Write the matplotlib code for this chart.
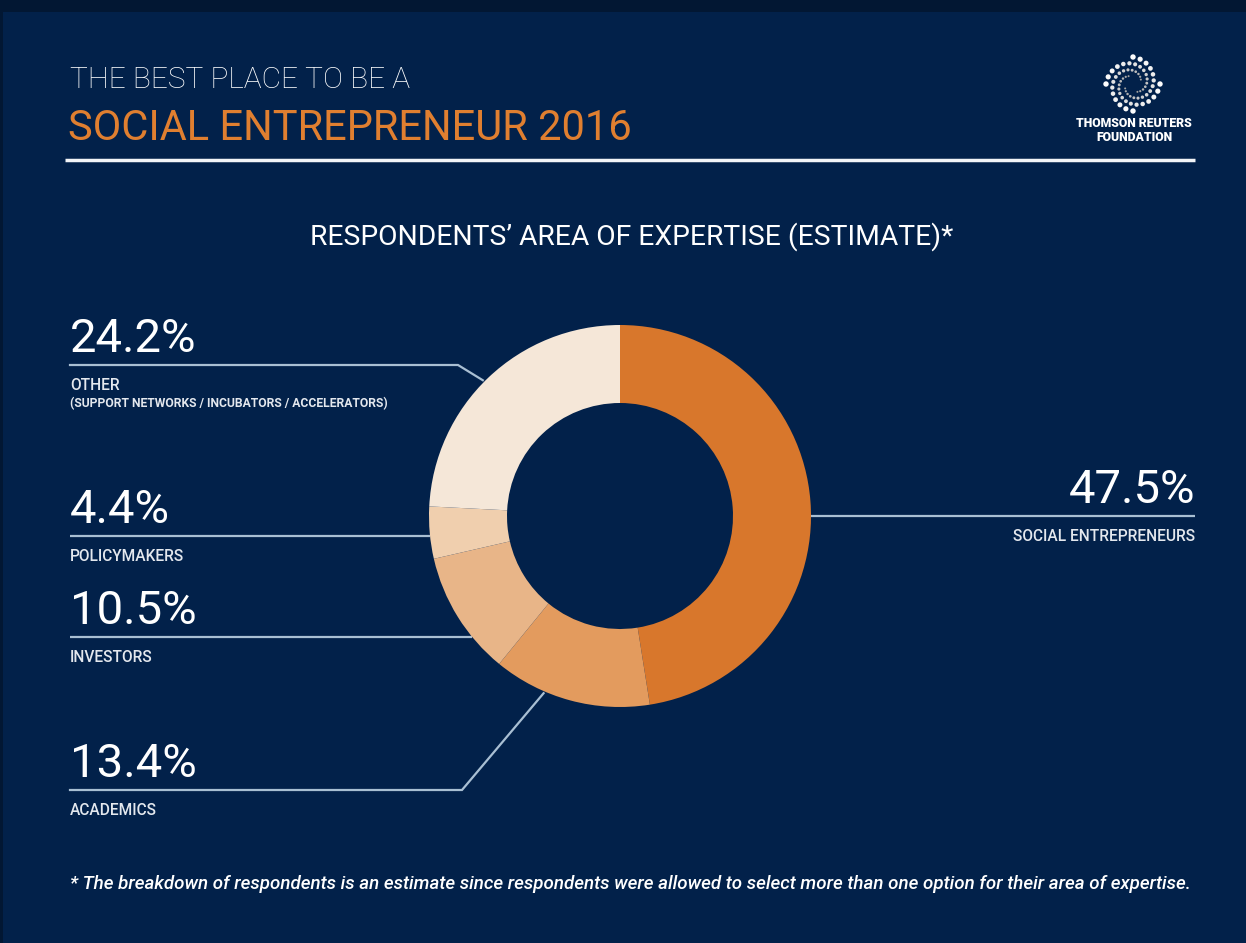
import numpy as np
import matplotlib
matplotlib.use("Agg")
import matplotlib.pyplot as plt
from matplotlib.patches import Rectangle

# ---------------- data ----------------
categories = ["SOCIAL ENTREPRENEURS", "ACADEMICS", "INVESTORS", "POLICYMAKERS", "OTHER"]
values = [47.5, 13.4, 10.5, 4.4, 24.2]
pct_labels = ["47.5%", "13.4%", "10.5%", "4.4%", "24.2%"]
sub_labels = ["", "", "", "", "(SUPPORT NETWORKS / INCUBATORS / ACCELERATORS)"]
colors = ["#D8772C", "#E39B5E", "#E8B588", "#F0CFAE", "#F5E7D8"]

title_top = "THE BEST PLACE TO BE A"
title_main = "SOCIAL ENTREPRENEUR 2016"
chart_title = "RESPONDENTS\u2019 AREA OF EXPERTISE (ESTIMATE)*"
footnote = ("* The breakdown of respondents is an estimate since respondents were allowed "
            "to select more than one option for their area of expertise.")

# ---------------- layout ----------------
W, H = 1246, 943
BG = "#02214A"
BG_DARK = "#021733"
LINE = "#A9BFD3"
TXT = "#FFFFFF"
SUBTXT = "#E4E8EE"

fig = plt.figure(figsize=(W / 100, H / 100), dpi=100, facecolor=BG_DARK)
ax = fig.add_axes([0, 0, 1, 1])
ax.set_facecolor(BG_DARK)


def Y(py):
    return H - py


ax.add_patch(Rectangle((3, 0), W - 3, H - 12, facecolor=BG, edgecolor="none", zorder=0))

cx, cy, R, ring = 620, Y(516), 191, 78
wedges, _ = ax.pie(values, colors=colors, startangle=90, counterclock=False,
                   radius=R, center=(cx, cy), frame=True,
                   wedgeprops=dict(width=ring, edgecolor="none", linewidth=0))
for w in wedges:
    w.set_zorder(3)

ax.set_xlim(0, W)
ax.set_ylim(0, H)
ax.set_aspect("auto")
ax.axis("off")

# header
ax.text(70, Y(88), title_top, color=TXT, fontsize=21.5, family="Roboto", weight="light",
        ha="left", va="baseline")
ax.text(68, Y(140), title_main, color="#E07F30", fontsize=30, family="Roboto",
        ha="left", va="baseline")
ax.plot([65, 1195], [Y(160), Y(160)], color="#F2F4F7", lw=2.5, solid_capstyle="butt")

# logo (decorative dotted swirl)
lx, ly = 1133, Y(84)
for arm in range(4):
    t = np.linspace(0, 1, 16)
    ang = np.deg2rad(arm * 90) - t * 4.2
    rad = 27 - t * 18
    ax.scatter(lx + rad * np.cos(ang), ly + rad * np.sin(ang), s=(3.0 - 1.9 * t) ** 2 * 1.7,
               color=plt.cm.Greys(0.02 + 0.45 * t), edgecolors="none", zorder=4)
ax.text(1134, Y(127), "THOMSON REUTERS", color=TXT, fontsize=8.8, family="Roboto",
        weight="black", ha="center", va="baseline")
ax.text(1134, Y(141), "FOUNDATION", color=TXT, fontsize=8.8, family="Roboto",
        weight="black", ha="center", va="baseline")

# chart title
ax.text(632, Y(245), chart_title, color=TXT, fontsize=20.3, family="Roboto",
        ha="center", va="baseline")

# ---------------- labels & leader lines ----------------
theta_edges = np.concatenate([[0], np.cumsum(values)]) / sum(values) * 360.0


def circ_pt(theta_deg, r=R):
    t = np.deg2rad(theta_deg)
    return cx + r * np.sin(t), cy + r * np.cos(t)


def circ_x_at(py, side):
    dy = Y(py) - cy
    dx = np.sqrt(max(R ** 2 - dy ** 2, 0))
    return cx + side * dx


# layout per category: (line row y px, text x, side, knee x or None, fraction in wedge)
layout = {
    "SOCIAL ENTREPRENEURS": (516, 1195, +1, None, None),
    "ACADEMICS": (790, 70, -1, 462, 0.67),
    "INVESTORS": (637, 70, -1, None, None),
    "POLICYMAKERS": (536, 70, -1, None, None),
    "OTHER": (365, 70, -1, 458, 0.48),
}

for i, cat in enumerate(categories):
    row, tx, side, knee, frac = layout[cat]
    if knee is None:
        ex = circ_x_at(row, side)
        ax.plot([tx, ex], [Y(row), Y(row)], color=LINE, lw=1.6, zorder=2,
                solid_capstyle="butt")
    else:
        th = theta_edges[i] + frac * (theta_edges[i + 1] - theta_edges[i])
        px_, py_ = circ_pt(th, R + 2)
        ax.plot([tx, knee, px_], [Y(row), Y(row), py_], color=LINE, lw=1.6, zorder=2,
                solid_joinstyle="miter")
    ha = "right" if side > 0 else "left"
    ax.text(tx, Y(row - 13), pct_labels[i], color=TXT, fontsize=34, family="Roboto",
            weight="normal", ha=ha, va="baseline")
    ax.text(tx, Y(row + 25), cat, color=SUBTXT, fontsize=11.2, family="Roboto",
            weight="medium", ha=ha, va="baseline")
    if sub_labels[i]:
        ax.text(tx, Y(row + 42), sub_labels[i], color=SUBTXT, fontsize=8.7, family="Roboto",
                weight="bold", ha=ha, va="baseline")

# footnote
ax.text(70, Y(889), footnote, color=TXT, fontsize=13.5, family="Roboto", style="italic",
        weight="medium", ha="left", va="baseline")

fig.savefig("out.png", dpi=100, facecolor=fig.get_facecolor())
